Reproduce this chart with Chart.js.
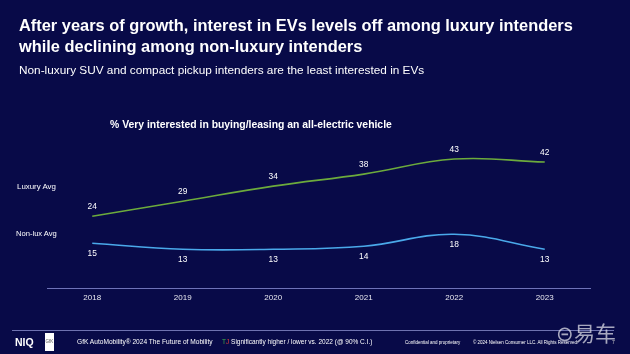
<!DOCTYPE html>
<html><head><meta charset="utf-8">
<script src="https://cdn.jsdelivr.net/npm/chart.js@4.4.1/dist/chart.umd.min.js"></script>
<style>
html,body{margin:0;padding:0;background:#080a48;}
#wrap{position:relative;width:630px;height:354px;overflow:hidden;background:#080a48;font-family:"Liberation Sans",Arial,sans-serif;color:#fff;}
canvas{position:absolute;left:0;top:0;}
.t{position:absolute;white-space:nowrap;}
</style></head><body>
<div id="wrap">
<canvas id="c" width="630" height="354"></canvas>
<div class="t" style="left:19px;top:15px;font-size:16.4px;font-weight:bold;line-height:20.5px;">After years of growth, interest in EVs levels off among luxury intenders<br>while declining among non-luxury intenders</div>
<div class="t" style="left:19px;top:63px;font-size:11.8px;">Non-luxury SUV and compact pickup intenders are the least interested in EVs</div>
<div class="t" style="left:110px;top:119px;font-size:10.4px;font-weight:bold;">% Very interested in buying/leasing an all-electric vehicle</div>
<div class="t" style="left:17px;top:182px;font-size:7.9px;">Luxury Avg</div>
<div class="t" style="left:16px;top:229px;font-size:7.6px;">Non-lux Avg</div>
<div style="position:absolute;left:12px;top:330px;width:602px;height:1px;background:#6e72b0;"></div>
<div class="t" style="left:15px;top:336px;font-size:10.5px;font-weight:bold;">NIQ</div>
<div style="position:absolute;left:45px;top:333px;width:9px;height:18px;background:#fff;color:#555;font-size:4.5px;line-height:18px;text-align:center;">GfK</div>
<div class="t" style="left:77px;top:338px;font-size:6.6px;">GfK AutoMobility® 2024 The Future of Mobility</div>
<div class="t" style="left:222px;top:338px;font-size:6.5px;"><span style="color:#3cae4a">T</span><span style="color:#e0403a">J</span> Significantly higher / lower vs. 2022 (@ 90% C.I.)</div>
<div class="t" style="left:405px;top:339.5px;font-size:4.5px;">Confidential and proprietary</div>
<div class="t" style="left:473px;top:339.5px;font-size:4.5px;">© 2024 Nielsen Consumer LLC. All Rights Reserved.</div>
<div class="t" style="left:556px;top:317px;font-size:21px;color:rgba(220,220,230,0.75);font-family:'Noto Sans CJK SC',sans-serif;">⊝易车</div>
<div class="t" style="left:612px;top:339px;font-size:5px;color:#ccc;">7</div>
</div>
<script>
const years = ["2018","2019","2020","2021","2022","2023"];
const luxuryAvg = [24, 29, 34, 38, 43, 42];
const nonLuxAvg = [15, 13, 13, 14, 18, 13];

const labelPlugin = {
  id: 'vals',
  afterDatasetsDraw(chart) {
    const ctx = chart.ctx;
    ctx.save();
    ctx.font = '8.4px "Liberation Sans", Arial, sans-serif';
    ctx.fillStyle = '#ffffff';
    ctx.textAlign = 'center';
    ctx.textBaseline = 'middle';
    chart.data.datasets.forEach((ds, i) => {
      const meta = chart.getDatasetMeta(i);
      meta.data.forEach((pt, j) => {
        const dy = i === 0 ? -9.5 : 10;
        ctx.fillText(String(ds.data[j]), pt.x, pt.y + dy);
      });
    });
    ctx.restore();
  }
};

new Chart(document.getElementById('c'), {
  type: 'line',
  data: {
    labels: years,
    datasets: [
      { label: 'Luxury Avg', data: luxuryAvg, borderColor: '#6cab3c', borderWidth: 1.6, pointRadius: 0, tension: 0.4, fill: false },
      { label: 'Non-lux Avg', data: nonLuxAvg, borderColor: '#4aa9ea', borderWidth: 1.6, pointRadius: 0, tension: 0.4, fill: false }
    ]
  },
  options: {
    responsive: false,
    animation: false,
    devicePixelRatio: 1,
    layout: { padding: { left: 47, right: 40, top: 138, bottom: 46 } },
    plugins: { legend: { display: false }, tooltip: { enabled: false }, title: { display: false } },
    scales: {
      x: {
        offset: true,
        grid: { display: false, drawTicks: false },
        border: { display: true, color: '#6e72b8', width: 1 },
        ticks: { color: '#e8e8f0', font: { size: 8, family: '"Liberation Sans", Arial, sans-serif' }, padding: 5 }
      },
      y: { display: false, min: 0, max: 50 }
    }
  },
  plugins: [labelPlugin]
});
</script>
</body></html>
